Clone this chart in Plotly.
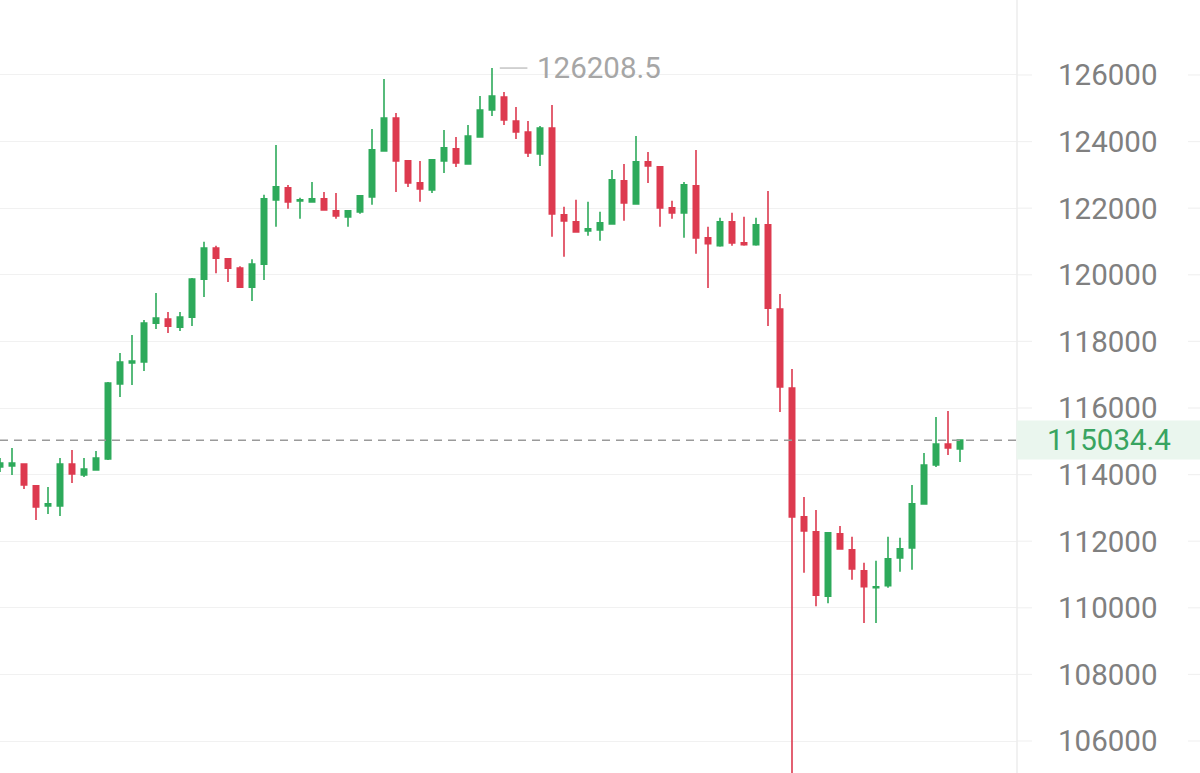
import plotly.graph_objects as go

# ---- data ----
idx = list(range(81))
open_ = [114230, 114260, 114320, 113660, 113060, 113060, 114320, 113990, 114140, 114470,
         116720, 117350, 117380, 118550, 118670, 118430, 118730, 119870, 120800, 120480,
         120200, 119630, 120320, 122250, 122610, 122220, 122190, 122280, 121920, 121740,
         121890, 122340, 123720, 124710, 123420, 122760, 122550, 123420, 123780, 123330,
         124140, 124950, 125340, 124620, 124290, 123630, 124410, 121800, 121590, 121320,
         121350, 121530, 122820, 122130, 123390, 123240, 122010, 121860, 122670, 121110,
         120870, 121590, 120960, 120900, 121500, 118970, 116600, 112730, 112280, 110350,
         112220, 111740, 111110, 110600, 110660, 111500, 111800, 113120, 114290, 114920,
         114770]
high = [114500, 114800, 114340, 113680, 113630, 114500, 114740, 114500, 114710, 116780,
        117650, 118190, 118640, 119450, 118880, 118880, 119900, 120990, 120870, 120500,
        120260, 120470, 122400, 123900, 122700, 122310, 122790, 122490, 122460, 121930,
        122390, 124380, 125880, 124860, 123440, 123420, 123470, 124350, 124140, 124500,
        125370, 126208.5, 125490, 125040, 124620, 124470, 125100, 122040, 122250, 122190,
        121890, 123150, 123330, 124170, 123690, 123260, 122220, 122790, 123750, 121440,
        121710, 121860, 121740, 121710, 122520, 119420, 117170, 113330, 112940, 112270,
        112460, 112130, 111350, 111410, 112130, 112100, 113690, 114650, 115730, 115910,
        115034.4]
low = [114080, 113990, 113570, 112640, 112820, 112760, 113750, 113930, 114120, 114440,
       116330, 116690, 117110, 118370, 118250, 118310, 118460, 119330, 120050, 119780,
       119610, 119210, 119840, 121440, 121980, 121680, 122160, 121920, 121680, 121440,
       121830, 122100, 123700, 122490, 122640, 122190, 122460, 123060, 123240, 123310,
       124120, 124770, 124500, 124080, 123540, 123270, 121140, 120540, 121260, 121170,
       121020, 121500, 121620, 122100, 122760, 121440, 121680, 121110, 120630, 119600,
       120840, 120870, 120870, 120870, 118460, 115880, 103800, 111050, 110050, 110140,
       111740, 110840, 109540, 109540, 110600, 111080, 111140, 113100, 114230, 114590,
       114380]
close = [114350, 114350, 113690, 113030, 113120, 114320, 114020, 114170, 114500, 116750,
         117380, 117410, 118550, 118700, 118460, 118730, 119870, 120800, 120500, 120200,
         119630, 120320, 122280, 122640, 122190, 122250, 122280, 121950, 121770, 121920,
         122370, 123750, 124710, 123420, 122760, 122580, 123450, 123810, 123360, 124170,
         124950, 125370, 124650, 124290, 123660, 124410, 121830, 121620, 121290, 121380,
         121560, 122850, 122160, 123390, 123270, 122010, 121860, 122700, 121110, 120930,
         121590, 120960, 120900, 121500, 119000, 116630, 112730, 112310, 110380, 112250,
         111770, 111170, 110630, 110630, 111470, 111770, 113120, 114290, 114920, 114800,
         115034.4]
tick_vals = [106000, 108000, 110000, 112000, 114000, 116000, 118000, 120000, 122000, 124000, 126000]
tick_text = [str(v) for v in tick_vals]
last_price_text = "115034.4"
max_text = "126208.5"

GREEN = "#2eaa5b"
RED = "#dd3a4f"
GRID = "#f1f1f1"
FONT = "Roboto"
FSIZE = 29.5

fig = go.Figure()
fig.add_trace(go.Candlestick(
    x=idx, open=open_, high=high, low=low, close=close,
    increasing=dict(line=dict(color=GREEN, width=1.6), fillcolor=GREEN),
    decreasing=dict(line=dict(color=RED, width=1.6), fillcolor=RED),
    whiskerwidth=0, showlegend=False, hoverinfo="skip",
))

# plot area 0..1017 px wide
PLOT_W = 1017.0
def px(p):
    return p / PLOT_W

shapes = []
# gridline stubs in the axis area
for v in tick_vals:
    shapes.append(dict(type="line", xref="paper", yref="y", x0=1.0, x1=px(1032), y0=v, y1=v,
                       line=dict(color=GRID, width=1.2), layer="below"))
    shapes.append(dict(type="line", xref="paper", yref="y", x0=px(1188), x1=px(1200), y0=v, y1=v,
                       line=dict(color=GRID, width=1.2), layer="below"))
# divider between chart and price axis
shapes.append(dict(type="line", xref="paper", yref="paper", x0=1.0, x1=1.0, y0=0, y1=1,
                   line=dict(color="#ececec", width=1.5)))
# current price dashed line
last = close[-1]
shapes.append(dict(type="line", xref="paper", yref="y", x0=0, x1=1, y0=last, y1=last,
                   line=dict(color="#9a9a9a", width=1.5, dash="8px,6px")))
# max price marker line
imax = max(range(len(high)), key=lambda i: high[i])
shapes.append(dict(type="line", xref="x", yref="y", x0=imax + 0.65, x1=imax + 2.95,
                   y0=high[imax], y1=high[imax], line=dict(color="#b5b5b5", width=1.2)))

annotations = [
    dict(x=imax + 3.55, y=high[imax], xref="x", yref="y", text=max_text, showarrow=False,
         xanchor="left", yanchor="middle", font=dict(family=FONT, size=FSIZE, color="#a6a6a6")),
    dict(x=px(1109), y=last, xref="paper", yref="y", text=last_price_text, showarrow=False,
         xanchor="center", yanchor="middle", width=180, height=34, bgcolor="#eaf6ee",
         borderpad=2, font=dict(family=FONT, size=FSIZE, color="#38a460")),
]

fig.update_layout(
    width=1200, height=773,
    margin=dict(l=0, r=183, t=0, b=0),
    paper_bgcolor="white", plot_bgcolor="white",
    boxgap=0.36,
    shapes=shapes, annotations=annotations,
    xaxis=dict(range=[0, PLOT_W / 12.0], visible=False, rangeslider=dict(visible=False),
               showgrid=False, zeroline=False),
    yaxis=dict(range=[105039, 128252], side="right", tickvals=tick_vals, ticktext=tick_text,
               showgrid=True, gridcolor=GRID, gridwidth=1.2, zeroline=False, ticks="",
               ticklabelposition="outside", ticklabelstandoff=40,
               tickfont=dict(family=FONT, size=FSIZE, color="#808080"), showline=False),
)

fig.write_html("out.html", config={"displayModeBar": False},
               post_script="document.body.style.margin='0';document.body.style.padding='0';")
